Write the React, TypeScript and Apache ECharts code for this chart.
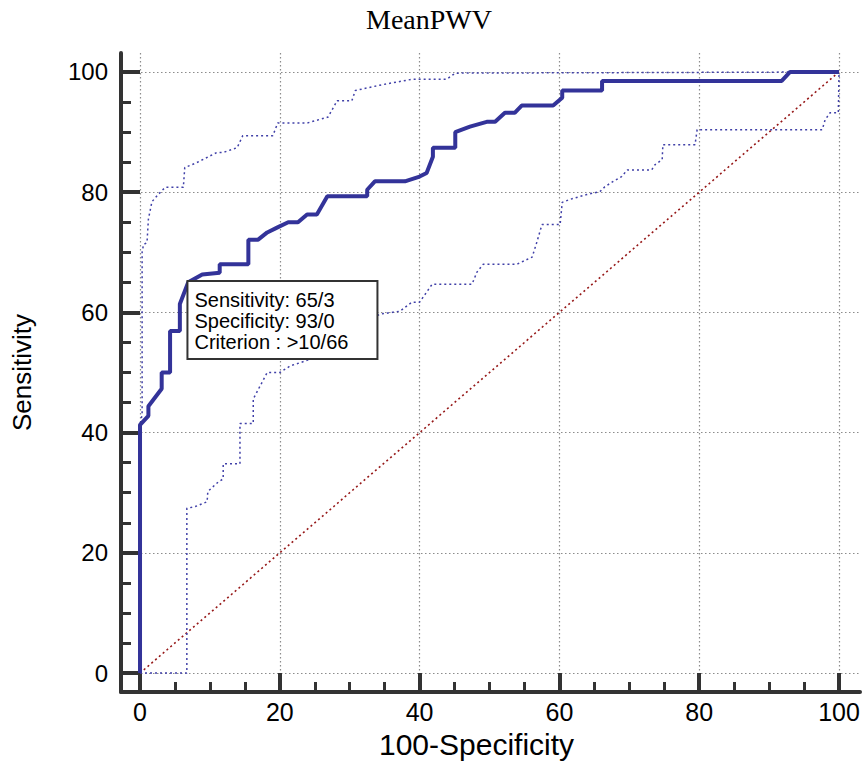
import React, { useEffect, useRef } from 'react';
import * as echarts from 'echarts';

// ROC curve (100-Specificity, Sensitivity)
const rocCurve: [number, number][] = [
  [0, 0], [0, 41.3], [1.2, 42.8], [1.2, 44.4], [3.1, 47.3], [3.1, 50], [4.3, 50], [4.3, 56.9],
  [5.7, 56.9], [5.7, 61.4], [6.9, 65], [8.9, 66.3], [11.4, 66.6], [11.4, 68], [15.5, 68],
  [15.5, 72.1], [16.9, 72.1], [18.2, 73.3], [19.6, 74.1], [21.2, 75], [22.6, 75], [23.9, 76.3],
  [25.3, 76.3], [26.8, 79.3], [32.5, 79.3], [32.5, 80.4], [33.6, 81.8], [37.9, 81.8], [40, 82.6],
  [41, 83.2], [41.9, 85.9], [41.9, 87.4], [45.1, 87.4], [45.1, 90], [47.2, 90.9], [49.6, 91.7],
  [50.8, 91.7], [52.2, 93.2], [53.6, 93.2], [54.6, 94.4], [59.1, 94.4], [60.4, 95.7], [60.4, 96.9],
  [66.1, 96.9], [66.1, 98.5], [91.8, 98.5], [93, 100], [100, 100],
];

// Upper 95% confidence bound
const upperCI: [number, number][] = [
  [0, 0], [0, 41.3], [0.3, 43], [0.3, 70], [0.5, 71.3], [1, 71.6], [1.2, 75.5], [1.7, 78.4],
  [2.6, 79.6], [3.6, 80.8], [6.2, 80.8], [6.4, 84.1], [8.1, 84.9], [11, 86.6], [11.9, 86.6],
  [13.9, 87.4], [14.7, 89.4], [19, 89.4], [19.7, 91.5], [23.9, 91.5], [26.9, 92.5], [28.2, 95.2],
  [30.3, 95.2], [30.8, 96.9], [34.3, 97.8], [39, 98.8], [43.9, 98.8], [45.1, 99.8], [100, 100],
];

// Lower 95% confidence bound
const lowerCI: [number, number][] = [
  [0, 0], [6.7, 0], [6.7, 27.4], [7.9, 27.7], [9.6, 28.5], [9.7, 30.2], [11.2, 31.8], [11.9, 32.3],
  [11.9, 34.8], [14.3, 34.8], [14.3, 41.5], [16.2, 41.5], [16.2, 45.6], [17.2, 47.8], [18.2, 50],
  [20, 50], [21.5, 51.1], [23.6, 51.9], [26, 53], [28, 55.5], [31, 57.5], [34.3, 59.7], [37.2, 60.2],
  [38.9, 61.7], [40, 61.7], [41.8, 64.7], [47.5, 64.7], [48.2, 66.7], [49.1, 68], [53.9, 68],
  [56.1, 69.2], [56.8, 71.8], [57.5, 74.6], [60.1, 74.6], [60.4, 78.3], [61.5, 78.8], [63.9, 79.6],
  [65.8, 80.1], [66.5, 80.9], [67.7, 81.8], [68.9, 82.6], [69.7, 83.7], [73.2, 83.7], [73.7, 84.6],
  [74.7, 85.4], [74.8, 87.9], [79.4, 87.9], [79.7, 90.4], [97.6, 90.4], [98, 92], [98.7, 93.2],
  [99.9, 93.2], [100, 100],
];

// Reference (chance) line
const diagonal: [number, number][] = [[0, 0], [100, 100]];

// Axis ticks
const majorTicks = [0, 20, 40, 60, 80, 100];
const minorTicks = [5, 10, 15, 25, 30, 35, 45, 50, 55, 65, 70, 75, 85, 90, 95];

// Criterion annotation
const criterionPoint: [number, number] = [7, 65.3];
const criterionLines = ['Sensitivity: 65/3', 'Specificity: 93/0', 'Criterion : >10/66'];

const SANS = '"Liberation Sans", Arial, sans-serif';
const AXIS_COLOR = '#333333';
const CURVE_COLOR = '#333399';

export default function App() {
  const ref = useRef<HTMLDivElement>(null);

  useEffect(() => {
    if (!ref.current) return;
    const chart = echarts.init(ref.current, undefined, { renderer: 'svg' });

    const majorAxisBase = (isX: boolean) => ({
      type: 'value',
      position: isX ? 'bottom' : 'left',
      min: isX ? -2.72 : -3.15,
      max: isX ? 103 : 103.15,
      splitNumber: 5,
      axisLine: { show: true, onZero: false, lineStyle: { color: AXIS_COLOR, width: 4 } },
      axisTick: { show: true, inside: true, length: 19, customValues: majorTicks, lineStyle: { color: AXIS_COLOR, width: 4 } },
      axisLabel: {
        show: true,
        customValues: majorTicks,
        margin: isX ? 7 : 13,
        fontSize: isX ? 25 : 24,
        fontFamily: SANS,
        color: '#000',
      },
      splitLine: { show: true, lineStyle: { color: '#8c8c8c', width: 1.2, type: [1.5, 2.5] } },
      name: isX ? '100-Specificity' : 'Sensitivity',
      nameLocation: 'middle',
      nameGap: isX ? 37 : 86,
      nameTextStyle: {
        fontSize: isX ? 30 : 26,
        fontFamily: SANS,
        color: '#000',
        padding: isX ? [0, 28, 0, 0] : [0, 0, 0, 0],
      },
    });

    const minorAxisBase = (isX: boolean) => ({
      type: 'value',
      position: isX ? 'bottom' : 'left',
      min: isX ? -2.72 : -3.15,
      max: isX ? 103 : 103.15,
      splitNumber: 5,
      axisLine: { show: false, onZero: false },
      axisTick: { show: true, inside: true, length: 10, customValues: minorTicks, lineStyle: { color: AXIS_COLOR, width: 3 } },
      axisLabel: { show: false },
      splitLine: { show: false },
    });

    chart.setOption({
      animation: false,
      backgroundColor: '#ffffff',
      title: {
        text: 'MeanPWV',
        left: 361,
        top: 0,
        textStyle: { fontFamily: '"Liberation Serif", "Times New Roman", serif', fontSize: 28, fontWeight: 'normal', color: '#000' },
      },
      grid: { left: 121, right: 3, top: 53, bottom: 70 },
      xAxis: [majorAxisBase(true), minorAxisBase(true)],
      yAxis: [majorAxisBase(false), minorAxisBase(false)],
      series: [
        {
          name: 'Reference',
          type: 'line',
          data: diagonal,
          showSymbol: false,
          lineStyle: { color: '#961818', width: 1.6, type: [2, 3] },
          z: 2,
        },
        {
          name: 'Lower 95% CI',
          type: 'line',
          data: lowerCI,
          showSymbol: false,
          lineStyle: { color: '#4040a8', width: 1.5, type: [2, 3] },
          z: 2,
        },
        {
          name: 'Upper 95% CI',
          type: 'line',
          data: upperCI,
          showSymbol: false,
          lineStyle: { color: '#4040a8', width: 1.5, type: [2, 3] },
          z: 2,
        },
        {
          name: 'ROC',
          type: 'line',
          data: rocCurve,
          showSymbol: false,
          lineStyle: { color: CURVE_COLOR, width: 4 },
          z: 3,
          markPoint: {
            symbol: 'rect',
            symbolSize: 1,
            itemStyle: { color: 'rgba(0,0,0,0)' },
            data: [{ coord: criterionPoint }],
            label: {
              show: true,
              position: [0, 2],
              align: 'left',
              verticalAlign: 'top',
              formatter: criterionLines.join('\n'),
              backgroundColor: '#ffffff',
              borderColor: '#333333',
              borderWidth: 2,
              padding: [7, 6, 6, 6],
              width: 176,
              fontSize: 20,
              lineHeight: 21,
              fontFamily: SANS,
              color: '#000',
            },
          },
        },
      ],
    });

    return () => chart.dispose();
  }, []);

  return (
    <div
      ref={ref}
      style={{ position: 'fixed', left: 0, top: 0, width: 863, height: 764, background: '#fff' }}
    />
  );
}
